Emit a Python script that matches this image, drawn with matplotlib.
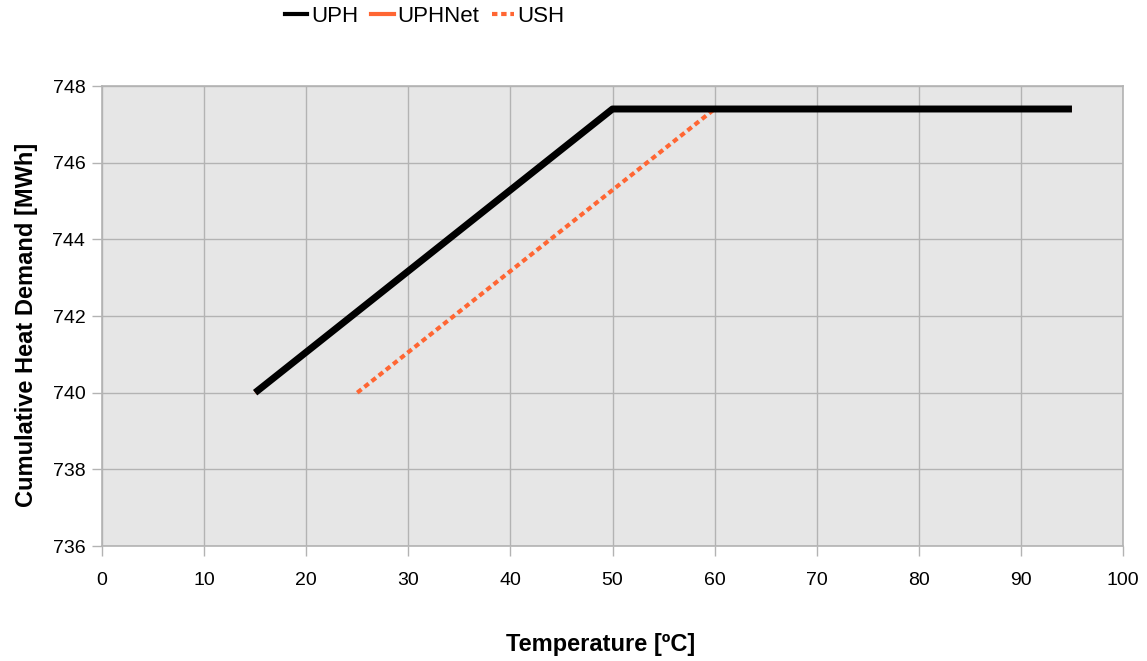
import matplotlib.pyplot as plt
from matplotlib.lines import Line2D

plt.rcParams['font.family'] = ['Liberation Sans', 'DejaVu Sans']

# curves (temperature in degC, cumulative heat demand in MWh)
uph_t = [15, 50, 95]
uph_q = [740.0, 747.4, 747.4]
uphnet_t = [15, 50, 95]
uphnet_q = [740.0, 747.4, 747.4]
ush_t = [25, 60]
ush_q = [740.0, 747.4]

x_ticks = list(range(0, 101, 10))
y_ticks = list(range(736, 749, 2))

orange = '#ff6633'
grey = '#b3b3b3'

fig = plt.figure(figsize=(11.47, 6.61), dpi=100)
ax = fig.add_axes([102 / 1147, 1 - 546 / 661, (1123 - 102) / 1147, (546 - 86) / 661])
ax.set_facecolor('#e6e6e6')

ax.plot(uphnet_t, uphnet_q, color=orange, lw=3.5, solid_capstyle='butt', zorder=3)
ax.plot(uph_t, uph_q, color='black', lw=5, solid_capstyle='butt', zorder=4)
ax.plot(ush_t, ush_q, color=orange, lw=3, linestyle=(0, (1.3, 0.9)), dash_capstyle='butt', zorder=3)

ax.set_xlim(0, 100)
ax.set_ylim(736, 748)
ax.set_xticks(x_ticks)
ax.set_yticks(y_ticks)
ax.grid(True, color=grey, lw=1, zorder=0)
ax.set_axisbelow(True)
for s in ax.spines.values():
    s.set_color(grey)
    s.set_linewidth(1.2)
ax.tick_params(direction='out', length=7, width=1, color=grey, labelsize=14)
ax.tick_params(axis='x', pad=12)
ax.tick_params(axis='y', pad=5)

ax.set_xlabel('Temperature [ºC]', fontsize=17, fontweight='bold')
ax.xaxis.set_label_coords(0.488, -0.189)
ax.set_ylabel('Cumulative Heat Demand [MWh]', fontsize=17, fontweight='bold')
ax.yaxis.set_label_coords(-0.063, 0.48)

handles = [
    Line2D([], [], color='black', lw=3),
    Line2D([], [], color=orange, lw=3),
    Line2D([], [], color=orange, lw=3, linestyle=(0, (1.3, 0.9))),
]
fig.legend(handles, ['UPH', 'UPHNet', 'USH'], loc='center', bbox_to_anchor=(425 / 1147, 1 - 16 / 661),
           ncol=3, frameon=False, fontsize=16, handlelength=1.0, handletextpad=0.15, columnspacing=0.6)

fig.savefig('out.png', dpi=100)
